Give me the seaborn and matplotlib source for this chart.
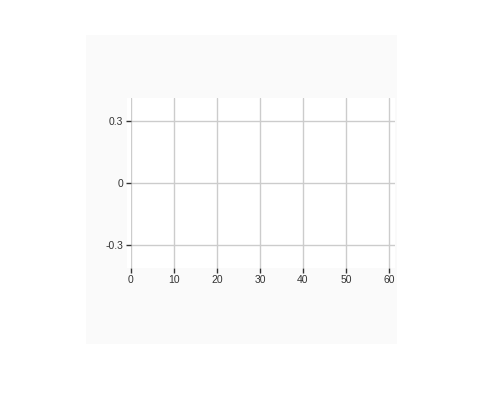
import matplotlib
matplotlib.use("Agg")
import matplotlib.pyplot as plt
import seaborn as sns
import pandas as pd
from matplotlib.patches import Rectangle

# Data (the reference chart is empty)
x_values = []
y_values = []
x_ticks = [0, 10, 20, 30, 40, 50, 60]
y_ticks = [-0.3, 0, 0.3]
y_tick_labels = ["-0.3", "0", "0.3"]

sns.set_theme(style="white")
plt.rcParams['font.family'] = ['Liberation Sans', 'DejaVu Sans']

W, H = 483, 419
fig = plt.figure(figsize=(W / 100, H / 100), dpi=100)
fig.patch.set_facecolor("white")

# light gray panel
fig.patches.append(Rectangle((86 / W, 1 - 344 / H), (397 - 86) / W, (344 - 35) / H,
                             transform=fig.transFigure, facecolor="#fafafa",
                             edgecolor="none", zorder=-2))
# white plot background (slightly wider than axes, like reference)
fig.patches.append(Rectangle((127 / W, 1 - 268 / H), (395 - 127) / W, (268 - 98) / H,
                             transform=fig.transFigure, facecolor="white",
                             edgecolor="none", zorder=-1))

left, right, top, bottom = 131, 395, 98, 268
ax = fig.add_axes([left / W, 1 - bottom / H, (right - left) / W, (bottom - top) / H])
ax.set_zorder(5)
ax.set_facecolor("none")

df = pd.DataFrame({"x": pd.Series(x_values, dtype=float), "y": pd.Series(y_values, dtype=float)})
sns.lineplot(data=df, x="x", y="y", ax=ax)

ax.set_xlim(0, 61.4)
ax.set_ylim(-0.413, 0.41)
ax.set_xticks(x_ticks)
ax.set_xticklabels([str(t) for t in x_ticks])
ax.set_yticks(y_ticks)
ax.set_yticklabels(y_tick_labels)
ax.set_xlabel("")
ax.set_ylabel("")

ax.grid(True, color="#cccccc", linewidth=1)
for s in ax.spines.values():
    s.set_visible(False)

ax.tick_params(axis="both", which="major", labelsize=7.5, colors="#333333",
               length=3.5, width=1, pad=2, bottom=True, left=True)
ax.tick_params(axis="x", pad=1.5)

fig.savefig("out.png", dpi=100)
